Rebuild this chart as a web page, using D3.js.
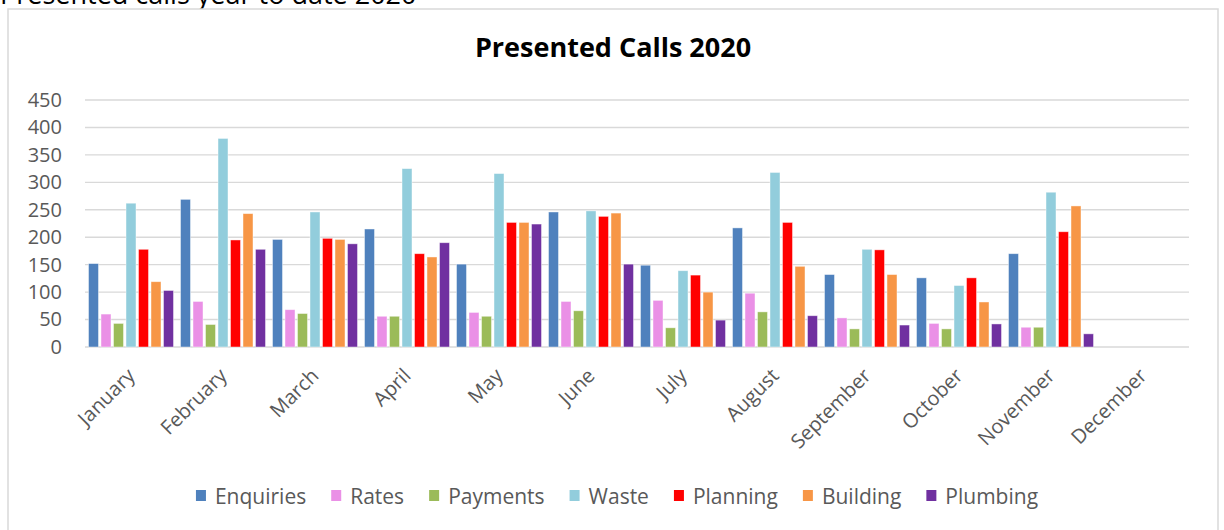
<!DOCTYPE html>
<html><head><meta charset="utf-8">
<script src="https://cdn.jsdelivr.net/npm/d3@7"></script>
<style>html,body{margin:0;padding:0;background:#fff;overflow:hidden}</style>
</head><body>
<svg id="c" width="1224" height="530"></svg>
<script>
const months = ["January","February","March","April","May","June","July","August","September","October","November","December"];
const seriesNames = ["Enquiries","Rates","Payments","Waste","Planning","Building","Plumbing"];
const seriesColors = ["#4F81BD","#EA90E6","#9BBB59","#92CDDC","#FF0000","#F79646","#7030A0"];
const enquiries = [152,269,196,215,151,246,149,217,132,126,170,null];
const rates     = [60,83,68,56,63,83,85,98,53,43,36,null];
const payments  = [43,41,61,56,56,66,35,64,33,33,36,null];
const waste     = [262,380,246,325,316,248,139,318,178,112,282,null];
const planning  = [178,195,198,170,227,238,131,227,177,126,210,null];
const building  = [119,243,196,164,227,244,100,147,132,82,257,null];
const plumbing  = [103,178,188,190,224,151,49,57,40,42,24,null];
const yTicks = [0,50,100,150,200,250,300,350,400,450];
const titleText = "Presented Calls 2020";
const topText = "Presented calls year to date 2020";

const allSeries = [enquiries,rates,payments,waste,planning,building,plumbing];
const svg = d3.select("#c");
const font = "'Open Sans', sans-serif";

// cut-off heading above chart
svg.append("text").attr("x",0).attr("y",4).attr("font-family",font).attr("font-size",27)
  .attr("fill","#000").text(topText);

// chart border
svg.append("rect").attr("x",8).attr("y",9).attr("width",1210).attr("height",540)
  .attr("fill","#fff").attr("stroke","#d9d9d9").attr("stroke-width",1.5);

const pL=85, pR=1189, pT=100, pB=347;
const x0 = d3.scaleBand().domain(months).range([pL,pR]).paddingInner(0).paddingOuter(0);
const x1 = d3.scaleBand().domain(seriesNames).range([0,x0.bandwidth()]).paddingInner(0.2).paddingOuter(0.28);
const y = d3.scaleLinear().domain([0,450]).range([pB,pT]);

// gridlines
svg.append("g").selectAll("line").data(yTicks).join("line")
  .attr("x1",pL).attr("x2",pR).attr("y1",d=>y(d)).attr("y2",d=>y(d))
  .attr("stroke","#d9d9d9").attr("stroke-width",1.4);

// y labels
const yAxis = d3.axisLeft(y).tickValues(yTicks).tickSize(0).tickPadding(0);
const yg = svg.append("g").attr("transform","translate(62,0)").call(yAxis);
yg.select(".domain").remove();
yg.selectAll("text").attr("font-family",font).attr("font-size",20).attr("fill","#595959");

// bars
const gs = svg.append("g").selectAll("g").data(months).join("g")
  .attr("transform",d=>`translate(${x0(d)},0)`);
gs.selectAll("rect").data((m,i)=>seriesNames.map((s,j)=>({s,j,v:allSeries[j][i]})).filter(d=>d.v!=null))
  .join("rect")
  .attr("x",d=>x1(d.s)).attr("width",x1.bandwidth())
  .attr("y",d=>y(d.v)).attr("height",d=>y(0)-y(d.v))
  .attr("fill",d=>seriesColors[d.j])
  .attr("stroke","rgba(255,255,255,0.55)").attr("stroke-width",0.8);

// x labels
const xAxis = d3.axisBottom(x0).tickSize(0).tickPadding(0);
const xg = svg.append("g").attr("transform",`translate(0,${pB})`).call(xAxis);
xg.select(".domain").remove();
xg.selectAll(".tick text")
  .attr("font-family",font).attr("font-size",20).attr("fill","#595959")
  .attr("text-anchor","end").attr("dy",0).attr("y",0)
  .attr("transform","translate(5,30) rotate(-45)");

// title
svg.append("text").attr("x",613).attr("y",57).attr("text-anchor","middle")
  .attr("font-family",font).attr("font-weight","bold").attr("font-size",27)
  .attr("fill","#000").text(titleText);

// legend
const lg = svg.append("g");
const items = lg.selectAll("g").data(seriesNames).join("g");
items.append("rect").attr("width",10).attr("height",11).attr("y",-8)
  .attr("fill",(d,i)=>seriesColors[i]);
items.append("text").attr("x",19).attr("y",0).attr("dy","0.3em")
  .attr("font-family",font).attr("font-size",21).attr("fill","#595959").text(d=>d);
let cx = 0;
items.each(function(d){
  const w = d3.select(this).select("text").node().getComputedTextLength();
  d3.select(this).attr("transform",`translate(${cx},0)`);
  cx += 19 + w + 25;
});
const total = cx - 25;
lg.attr("transform",`translate(${617 - total/2},498)`);
</script>
</body></html>
